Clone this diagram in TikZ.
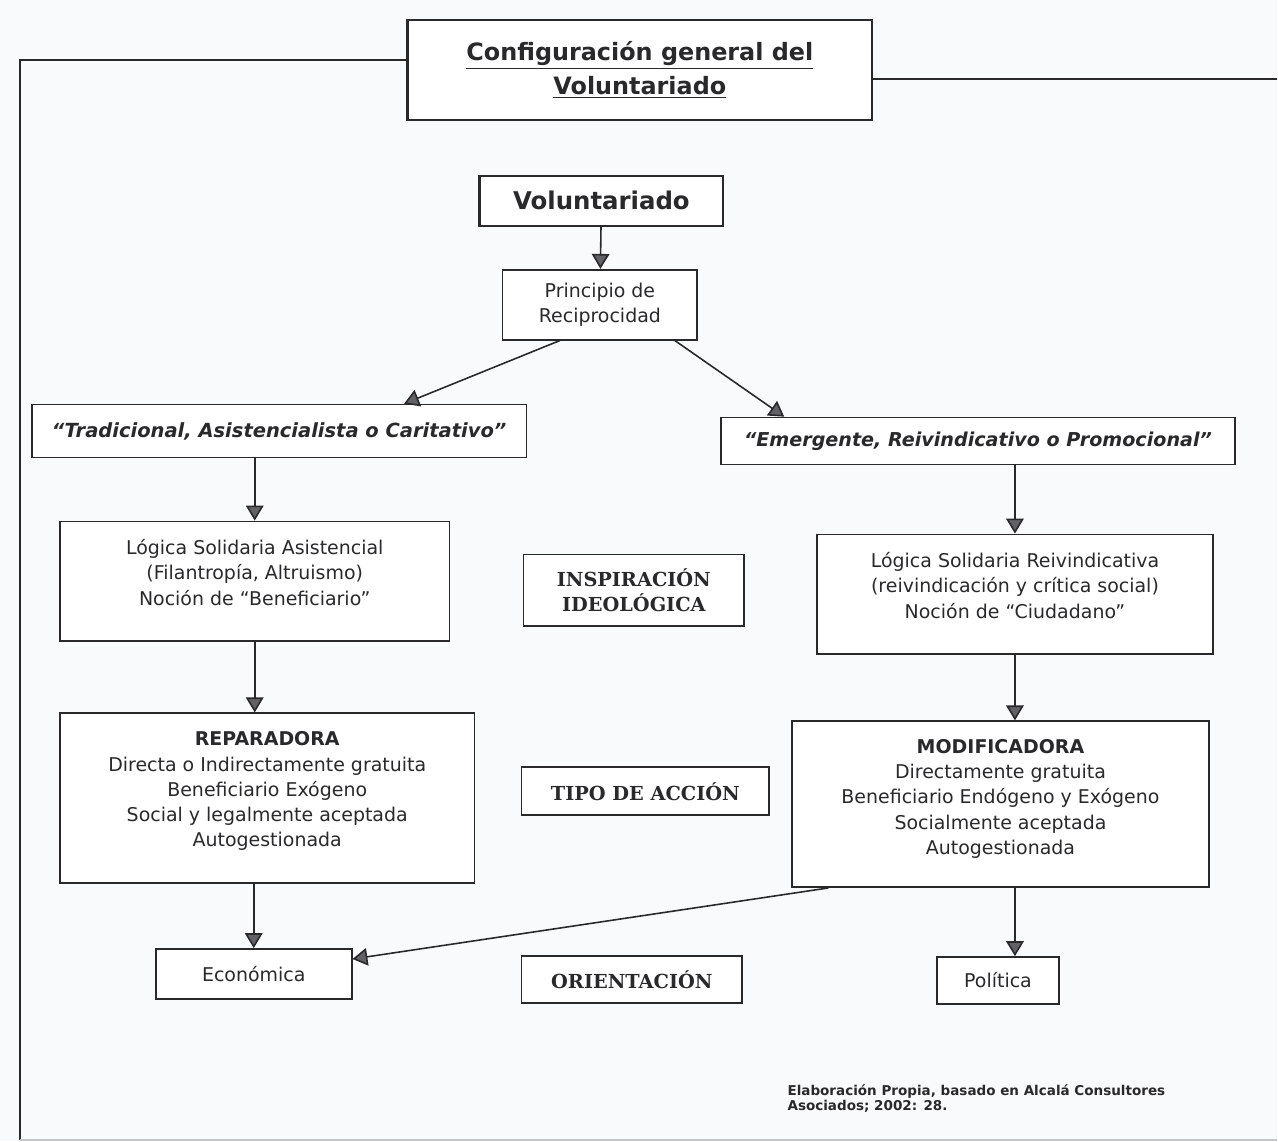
\documentclass[tikz,border=0pt]{standalone}
\usepackage{fontspec}
\setmainfont{DejaVu Sans}
\newfontfamily\slabfont{DejaVu Serif}
\usetikzlibrary{arrows.meta}

\definecolor{paper}{rgb}{0.972,0.979,0.985}
\definecolor{ink}{rgb}{0.16,0.16,0.17}
\definecolor{tipgray}{rgb}{0.38,0.38,0.40}

\begin{document}
\begin{tikzpicture}[x=0.02cm, y=-0.02cm,
  sz/.style 2 args={minimum width=#1*0.02cm, minimum height=#2*0.02cm},
  box/.style={draw=ink, line width=1pt, fill=white, inner sep=0pt, align=center,
    text=ink, font=\fontsize{10.8}{14.3}\selectfont},
  tag/.style={box, font=\slabfont\bfseries\fontsize{11}{14.5}\selectfont},
  flow/.style={draw=ink, line width=0.9pt, -{Triangle[width=10pt,length=8.5pt,fill=tipgray]}},
  frame/.style={draw=ink, line width=1.5pt}]
\fill[paper] (0,0) rectangle (1278,1142);

\node[box, sz={465}{100}, line width=1.3pt, font=\bfseries\fontsize{13.6}{19}\selectfont] (title) at (640.5,70)
  {\underline{Configuración general del}\\\underline{Voluntariado}};
\node[box, sz={244}{50}, line width=1.3pt, font=\bfseries\fontsize{13.9}{16}\selectfont] (volun) at (602,201) {Voluntariado};
\node[box, sz={195}{70}] (princ) at (600.5,305) {Principio de\\Reciprocidad};

\node[box, sz={495}{53}, font=\bfseries\itshape\fontsize{11.1}{14}\selectfont] (trad) at (279.5,431.5)
  {“Tradicional, Asistencialista o Caritativo”};
\node[box, sz={514}{47}, font=\bfseries\itshape\fontsize{10.9}{14}\selectfont] (emer) at (979,441.5)
  {“Emergente, Reivindicativo o Promocional”};

\node[box, sz={390}{120}] (logA) at (255,582)
  {Lógica Solidaria Asistencial\\(Filantropía, Altruismo)\\Noción de “Beneficiario”\\[-4pt]};
\node[tag, sz={221}{72}] (insp) at (634.5,591) {INSPIRACIÓN\\IDEOLÓGICA};
\node[box, sz={396}{120}] (logR) at (1016,595)
  {Lógica Solidaria Reivindicativa\\(reivindicación y crítica social)\\Noción de “Ciudadano”\\[-4pt]};

\node[box, sz={415}{170}] (repa) at (267.5,799)
  {\textbf{REPARADORA}\\Directa o Indirectamente gratuita\\Beneficiario Exógeno\\Social y legalmente aceptada\\Autogestionada\\[-4pt]};
\node[tag, sz={248}{48}] (tipo) at (646,792) {TIPO DE ACCIÓN};
\node[box, sz={417}{166}] (modi) at (1001.5,805)
  {\textbf{MODIFICADORA}\\Directamente gratuita\\Beneficiario Endógeno y Exógeno\\Socialmente aceptada\\Autogestionada\\[-6pt]};

\node[box, sz={196}{50}] (econ) at (254,975) {Económica};
\node[tag, sz={221}{47}] (orie) at (632.5,980.5) {ORIENTACIÓN};
\node[box, sz={122}{47}] (poli) at (999,981.5) {Política};

\node[anchor=north west, align=left, inner sep=0pt, text=ink,
  font=\bfseries\fontsize{7.7}{8.8}\selectfont] (src) at (788,1085)
  {Elaboración Propia, basado en Alcalá Consultores\\Asociados; 2002: 28.};

% marco
\coordinate (lt) at (20,60);
\coordinate (lb) at (20,1141);
\coordinate (rb) at (1278,1141);
\coordinate (rt) at (1278,79);
\draw[frame] (title.west |- lt) -- (lt) -- (lb);
\draw[frame] (title.east |- rt) -- (rt);
\draw[gray!45, line width=1pt] (lb) -- (rb);

\draw[flow] (volun) -- (princ);
\draw[flow] ([xshift=-40*0.02cm]princ.south) -- ([xshift=125*0.02cm]trad.north);
\draw[flow] ([xshift=75*0.02cm]princ.south) -- ([xshift=-194*0.02cm]emer.north);
\draw[flow] (trad.south -| logA.north) -- (logA.north);
\draw[flow] (emer.south -| logR.north) -- (logR.north);
\draw[flow] (logA.south) -- (logA.south |- repa.north);
\draw[flow] (logR.south) -- (logR.south |- modi.north);
\draw[flow] (repa.south -| econ.north) -- (econ.north);
\draw[flow] ([xshift=37*0.02cm]modi.south west) -- ([yshift=0.3cm]econ.east);
\draw[flow] (modi.south -| logR.south) -- (logR.south |- poli.north);
\end{tikzpicture}
\end{document}
